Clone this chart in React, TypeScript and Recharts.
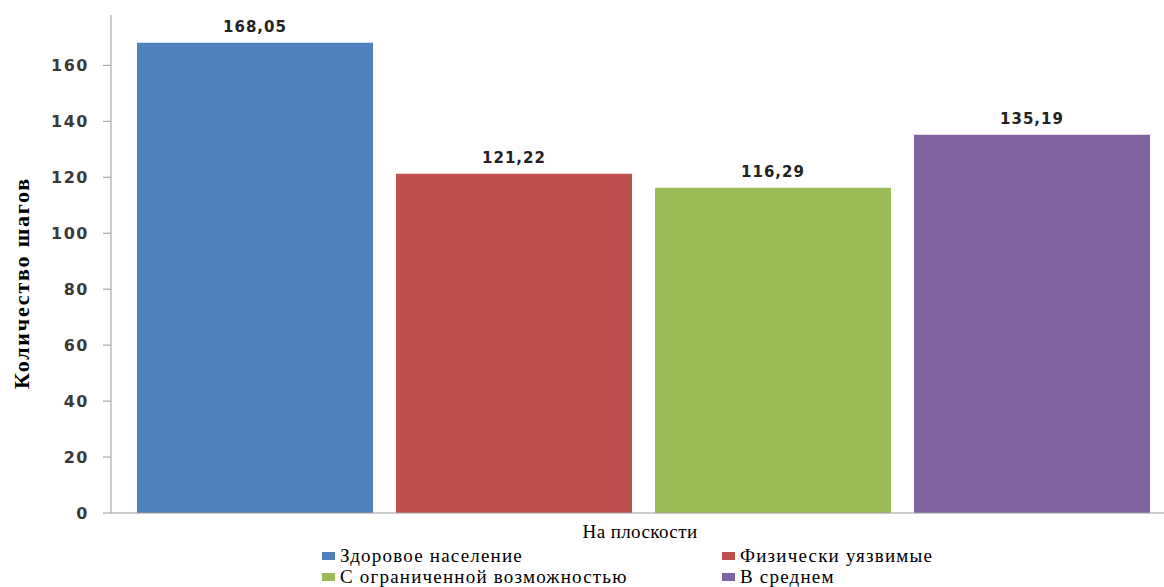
import React from "react";
import { BarChart, Bar, XAxis, YAxis, LabelList } from "recharts";

const categories = ["На плоскости"];
const seriesNames = [
  "Здоровое население",
  "Физически уязвимые",
  "С ограниченной возможностью",
  "В среднем",
];
const seriesValues = [168.05, 121.22, 116.29, 135.19];
const seriesColors = ["#4F81BD", "#C0504D", "#9BBB59", "#8064A2"];
const yTicks = [0, 20, 40, 60, 80, 100, 120, 140, 160];

const data = categories.map((c) => {
  const row: Record<string, string | number> = { name: c };
  seriesNames.forEach((s, i) => {
    row[s] = seriesValues[i];
  });
  return row;
});

const fmt = (v: any) => Number(v).toFixed(2).replace(".", ",");

const serif = "'Liberation Serif', 'Times New Roman', serif";

const tickStyle = {
  fontFamily: "'DejaVu Sans', Verdana, sans-serif",
  fontWeight: 700,
  fontSize: 16,
  letterSpacing: 1.5,
  fill: "#3a3a3a",
};

export default function App() {
  return (
    <div
      style={{
        position: "absolute",
        left: 0,
        top: 0,
        width: 1164,
        height: 587,
        overflow: "hidden",
        background: "#fff",
      }}
    >
      <BarChart
        width={1175}
        height={587}
        data={data}
        margin={{ top: 15, right: 0, left: 0, bottom: 44 }}
        barGap={23}
        barSize={236}
      >
        <XAxis
          dataKey="name"
          height={30}
          stroke="#999"
          tickLine={false}
          tick={{
            fontFamily: serif,
            fontSize: 19,
            letterSpacing: 0.4,
            fill: "#000",
            dx: -3,
          }}
          tickMargin={6}
        />
        <YAxis
          width={111}
          domain={[0, 178]}
          ticks={yTicks}
          stroke="#999"
          tickSize={8}
          tick={tickStyle}
          tickMargin={14}
          label={{
            content: () => {
              const cx = 21;
              const cy = 283;
              return (
                <text
                  x={cx}
                  y={cy}
                  transform={`rotate(-90, ${cx}, ${cy})`}
                  textAnchor="middle"
                  dominantBaseline="central"
                  style={{
                    fontFamily: serif,
                    fontSize: 22,
                    fontWeight: 700,
                    letterSpacing: 1.8,
                    fill: "#000",
                  }}
                >
                  Количество шагов
                </text>
              );
            },
          }}
        />
        {seriesNames.map((s, i) => (
          <Bar key={s} dataKey={s} fill={seriesColors[i]} isAnimationActive={false}>
            <LabelList
              dataKey={s}
              position="top"
              offset={11}
              formatter={fmt}
              style={{ ...tickStyle, fontSize: 15, letterSpacing: 1, fill: "#222" }}
            />
          </Bar>
        ))}
      </BarChart>

      {/* legend, two columns */}
      <div
        style={{
          position: "absolute",
          left: 322,
          top: 545,
          display: "grid",
          gridTemplateColumns: "400px 300px",
          fontFamily: serif,
          fontSize: 19,
          letterSpacing: 1.2,
          lineHeight: "21px",
          color: "#000",
        }}
      >
        {seriesNames.map((s, i) => (
          <div key={s} style={{ display: "flex", alignItems: "center", gap: 5 }}>
            <span
              style={{
                width: 13,
                height: 8,
                display: "inline-block",
                backgroundColor: seriesColors[i],
              }}
            ></span>
            <span>{s}</span>
          </div>
        ))}
      </div>
    </div>
  );
}
